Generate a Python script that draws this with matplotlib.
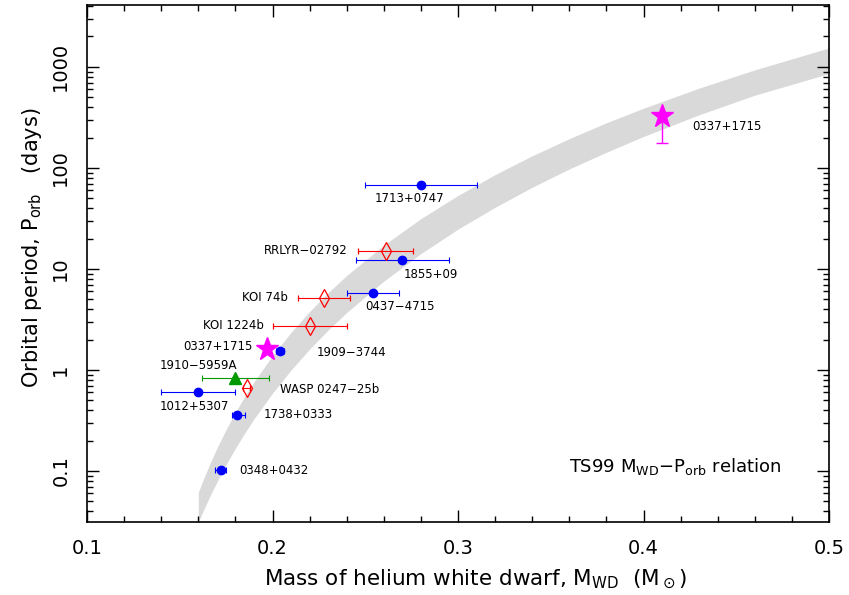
import matplotlib
matplotlib.use('Agg')
import matplotlib.pyplot as plt
from matplotlib.ticker import FixedLocator, FixedFormatter, MultipleLocator, LogLocator, NullFormatter

plt.rcParams['font.family'] = ['DejaVu Sans']
plt.rcParams['mathtext.default'] = 'regular'

# TS99 band, edges (mass, period in days)
band_m = [0.160, 0.1625, 0.165, 0.1675, 0.170, 0.175, 0.180, 0.185, 0.190, 0.200,
          0.210, 0.220, 0.230, 0.240, 0.260, 0.280, 0.300, 0.320, 0.340, 0.360,
          0.380, 0.400, 0.430, 0.460, 0.500]
band_p_hi = [0.0616, 0.0807, 0.104, 0.133, 0.168, 0.258, 0.381, 0.546, 0.762, 1.39,
             2.36, 3.79, 5.83, 8.63, 17.2, 31.5, 53.4, 85.9, 132, 195,
             280, 390, 617, 935, 1542]
band_p_lo = [0.0313, 0.0399, 0.0503, 0.0629, 0.0778, 0.116, 0.168, 0.237, 0.328, 0.590,
             1.00, 1.61, 2.49, 3.71, 7.59, 14.2, 24.8, 40.8, 64.4, 97.7,
             143, 205, 336, 525, 860]

# radio pulsars / ELM (blue dots)
blue_names = ['1713+0747', '1855+09', '0437\u22124715', '1909\u22123744',
              '1012+5307', '1738+0333', '0348+0432']
blue_m = [0.280, 0.270, 0.254, 0.204, 0.160, 0.181, 0.172]
blue_p = [67.8, 12.3, 5.74, 1.53, 0.605, 0.355, 0.102]
blue_mlo = [0.030, 0.025, 0.014, 0.002, 0.020, 0.003, 0.003]
blue_mhi = [0.030, 0.025, 0.014, 0.002, 0.020, 0.004, 0.003]

# eclipsing systems (red open diamonds)
red_names = ['RRLYR\u221202792', 'KOI 74b', 'KOI 1224b', 'WASP 0247\u221225b']
red_m = [0.261, 0.228, 0.220, 0.186]
red_p = [15.2, 5.19, 2.70, 0.668]
red_merr = [0.015, 0.014, 0.020, 0.002]

# globular cluster pulsar (green triangle)
green_names = ['1910\u22125959A']
green_m = [0.180]
green_p = [0.837]
green_merr = [0.018]

# triple system 0337+1715 (magenta stars): inner and outer orbit
star_names = ['0337+1715', '0337+1715']
star_m = [0.197, 0.410]
star_p = [1.63, 327]
star_plo = [0.0, 150]

# label offsets in pixels (dx, dy) and alignment
blue_off = [(-11, -14, 'center'), (1, -15, 'left'), (-7, -13, 'left'), (37, -1, 'left'),
            (-4, -14, 'center'), (26, 1, 'left'), (19, 0, 'left')]
red_off = [(-38, 0, 'right'), (-37, 0, 'right'), (-46, 1, 'right'), (33, -2, 'left')]
green_off = [(2, 12, 'right')]
star_off = [(-14, 2, 'right'), (30, -11, 'left')]

fig = plt.figure(figsize=(8.49, 5.95), dpi=100)
ax = fig.add_axes([87 / 849, 73 / 595, 742 / 849, 517 / 595])

ax.fill_between(band_m, band_p_lo, band_p_hi, color='#d9d9d9', lw=0, zorder=1)

eb = dict(capsize=2.5, elinewidth=0.8, capthick=0.8, ls='none', zorder=3)
ax.errorbar(blue_m, blue_p, xerr=[blue_mlo, blue_mhi], fmt='o', color='#0000ff',
            ms=6, **eb)
ax.errorbar(red_m, red_p, xerr=red_merr, fmt='d', color='#ff0000', ms=9,
            mfc='none', mew=0.9, **eb)
ax.errorbar(green_m, green_p, xerr=green_merr, fmt='^', color='#009900', ms=8, **eb)
ax.errorbar(star_m[1:], star_p[1:], yerr=[star_plo[1:], [0]], fmt='none',
            ecolor='#ff00ff', capsize=4, elinewidth=1.0, capthick=1.0, zorder=3)
ax.plot(star_m, star_p, '*', color='#ff00ff', ms=17, ls='none', zorder=4)


def put_labels(names, ms, ps, offs):
    for n, m, p, (dx, dy, ha) in zip(names, ms, ps, offs):
        ax.annotate(n, (m, p), xytext=(dx * 0.72, dy * 0.72), textcoords='offset points',
                    ha=ha, va='center', fontsize=8.5, zorder=5)


put_labels(blue_names, blue_m, blue_p, blue_off)
put_labels(red_names, red_m, red_p, red_off)
put_labels(green_names, green_m, green_p, green_off)
put_labels(star_names, star_m, star_p, star_off)

ax.text(0.792, 0.108, r'TS99 M$_{\rm WD}$$-$P$_{\rm orb}$ relation', transform=ax.transAxes,
        ha='center', va='center', fontsize=13)

ax.set_yscale('log')
ax.set_xlim(0.1, 0.5)
ax.set_ylim(0.0313, 4100)

ax.xaxis.set_major_locator(FixedLocator([0.1, 0.2, 0.3, 0.4, 0.5]))
ax.xaxis.set_major_formatter(FixedFormatter(['0.1', '0.2', '0.3', '0.4', '0.5']))
ax.xaxis.set_minor_locator(MultipleLocator(0.02))
ax.yaxis.set_major_locator(FixedLocator([0.1, 1, 10, 100, 1000]))
ax.yaxis.set_major_formatter(FixedFormatter(['0.1', '1', '10', '100', '1000']))
ax.yaxis.set_minor_locator(LogLocator(base=10, subs=range(2, 10), numticks=20))
ax.yaxis.set_minor_formatter(NullFormatter())

ax.tick_params(which='both', direction='in', top=True, right=True, width=1.0)
ax.tick_params(which='major', length=8.5, labelsize=14, pad=12)
ax.tick_params(which='minor', length=4.3)
for lab in ax.get_yticklabels():
    lab.set_rotation(90)
    lab.set_va('center')
for s in ax.spines.values():
    s.set_linewidth(1.2)

ax.set_xlabel(r'Mass of helium white dwarf, M$_{\rm WD}$  (M$_\odot$)', fontsize=15.5)
ax.set_ylabel(r'Orbital period, P$_{\rm orb}$   (days)', fontsize=15)
ax.xaxis.set_label_coords(0.524, -0.088)
ax.yaxis.set_label_coords(-0.058, 0.53)

fig.savefig('out.png', dpi=100)
